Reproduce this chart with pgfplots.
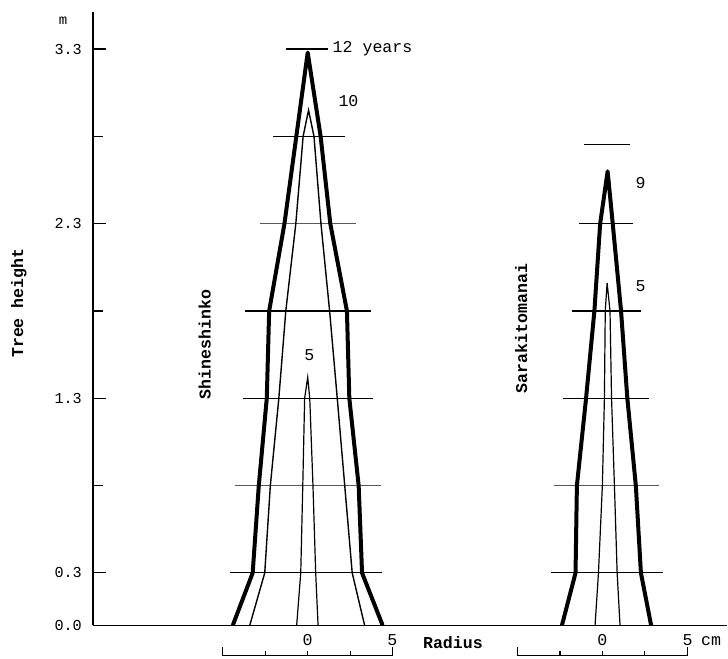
\documentclass[border=0pt]{standalone}
\usepackage{fontspec}
\setmainfont{Liberation Mono}
\usepackage{pgfplots}
\pgfplotsset{compat=1.18}
\newcommand{\lab}{\fontsize{8.3}{9}\selectfont\bfseries}
\newcommand{\txt}{\fontsize{8.3}{9}\selectfont}
\begin{document}
\begin{tikzpicture}
\begin{axis}[
 scale only axis, width=317.5pt, height=307pt,
 xmin=-12.647, xmax=24.706, ymin=0, ymax=3.513,
 axis x line=bottom, axis y line=left,
 axis line style={-, line width=0.7pt},
 xtick=\empty,
 ytick={0,0.3,1.3,2.3,3.3}, yticklabels={0.0,0.3,1.3,2.3,3.3},
 extra y ticks={0.8,1.8,2.8}, extra y tick labels={},
 extra y tick style={major tick length=5pt},
 major tick length=6.5pt, tick align=inside,
 tick style={line width=0.6pt, black},
 yticklabel style={font=\fontsize{7.6}{8}\selectfont, xshift=-2pt},
 clip=false,
]
% bounding area
\path (axis cs:-18.118,-0.189) rectangle (axis cs:24.706,3.581);

% ---- Shineshinko: horizontal section lines
\addplot[black, line width=0.6pt] coordinates {(-1.25,3.3) (1.18,3.3)};
\addplot[black, line width=0.6pt] coordinates {(-2.04,2.8) (2.18,2.8)};
\addplot[black!65, line width=0.6pt] coordinates {(-2.82,2.3) (2.82,2.3)};
\addplot[black, line width=0.55pt] coordinates {(-3.71,1.8) (3.75,1.8)};
\addplot[black, line width=0.6pt] coordinates {(-3.80,1.3) (3.84,1.3)};
\addplot[black!65, line width=0.6pt] coordinates {(-4.29,0.8) (4.33,0.8)};
\addplot[black, line width=0.6pt] coordinates {(-4.59,0.3) (4.39,0.3)};

% 12 years
\addplot[black, line width=2pt, line join=round] coordinates {
(-4.41,0) (-3.24,0.3) (-2.88,0.8) (-2.41,1.3) (-2.27,1.8) (-1.37,2.3) (-0.67,2.8) (0.0,3.28)
(0.76,2.8) (1.33,2.3) (2.31,1.8) (2.45,1.3) (3.0,0.8) (3.2,0.3) (4.41,0)};
% 10 years
\addplot[black, line width=0.7pt] coordinates {
(-3.41,0) (-2.53,0.3) (-2.2,0.8) (-1.7,1.3) (-1.29,1.8) (-0.7,2.3) (-0.27,2.8) (0.05,2.95)
(0.37,2.8) (0.78,2.3) (1.29,1.8) (1.74,1.3) (2.18,0.8) (2.62,0.3) (3.35,0)};
% 5 years
\addplot[black, line width=0.6pt] coordinates {
(-0.65,0) (-0.41,0.3) (-0.29,0.8) (-0.18,1.3) (0.0,1.42) (0.12,1.3) (0.31,0.8) (0.47,0.3) (0.61,0)};

% ---- Sarakitomanai (centre at 17.47 cm)
\addplot[black, line width=0.6pt] table[x expr=\thisrow{r}+17.47, y=h] {
r h
-1.18 2.753
1.51 2.753
};
\addplot[black, line width=0.6pt] table[x expr=\thisrow{r}+17.47, y=h] {
r h
-1.47 2.3
1.71 2.3
};
\addplot[black, line width=0.55pt] table[x expr=\thisrow{r}+17.47, y=h] {
r h
-1.90 1.8
2.16 1.8
};
\addplot[black, line width=0.6pt] table[x expr=\thisrow{r}+17.47, y=h] {
r h
-2.45 1.3
2.65 1.3
};
\addplot[black!65, line width=0.6pt] table[x expr=\thisrow{r}+17.47, y=h] {
r h
-2.94 0.8
3.19 0.8
};
\addplot[black, line width=0.6pt] table[x expr=\thisrow{r}+17.47, y=h] {
r h
-3.14 0.3
3.43 0.3
};
% 9 years
\addplot[black, line width=2pt, line join=round] table[x expr=\thisrow{r}+17.47, y=h] {
r h
-2.5 0
-1.7 0.3
-1.62 0.8
-1.08 1.3
-0.59 1.8
-0.25 2.3
0.19 2.6
0.49 2.3
0.98 1.8
1.35 1.3
1.85 0.8
2.15 0.3
2.75 0
};
% 5 years
\addplot[black, line width=0.6pt] table[x expr=\thisrow{r}+17.47, y=h] {
r h
-0.55 0
-0.35 0.3
-0.12 0.8
0.0 1.3
0.05 1.8
0.16 1.96
0.33 1.8
0.42 1.3
0.59 0.8
0.75 0.3
0.92 0
};

% ---- radius scale bars
\addplot[black, line width=0.6pt] coordinates {(-5,-0.126) (-5,-0.172) (5,-0.172) (5,-0.126)};
\addplot[black, line width=0.6pt] coordinates {(-2.5,-0.172) (-2.5,-0.149)};
\addplot[black, line width=0.6pt] coordinates {(0,-0.172) (0,-0.149)};
\addplot[black, line width=0.6pt] coordinates {(2.5,-0.172) (2.5,-0.149)};
\addplot[black, line width=0.6pt] coordinates {(12.35,-0.126) (12.35,-0.172) (22.35,-0.172) (22.35,-0.126)};
\addplot[black, line width=0.6pt] coordinates {(14.85,-0.172) (14.85,-0.149)};
\addplot[black, line width=0.6pt] coordinates {(17.35,-0.172) (17.35,-0.149)};
\addplot[black, line width=0.6pt] coordinates {(19.85,-0.172) (19.85,-0.149)};

% ---- texts
\node[anchor=west, inner sep=0pt] at (axis cs:1.45,3.30) {\txt 12 years};
\node[inner sep=0pt] at (axis cs:2.4,3.0) {\txt 10};
\node[inner sep=0pt] at (axis cs:0.1,1.55) {\txt 5};
\node[inner sep=0pt] at (axis cs:19.6,2.53) {\txt 9};
\node[inner sep=0pt] at (axis cs:19.6,1.94) {\txt 5};
\node[rotate=90, inner sep=0pt] at (axis cs:-6.06,1.608) {\lab Shineshinko};
\node[rotate=90, inner sep=0pt] at (axis cs:12.57,1.70) {\lab Sarakitomanai};
\node[rotate=90, inner sep=0pt] at (axis cs:-17.0,1.845) {\lab Tree height};
\node[inner sep=0pt] at (axis cs:-14.4,3.46) {\fontsize{7}{8}\selectfont m};
\node[inner sep=0pt] at (axis cs:8.55,-0.097) {\lab Radius};
\node[inner sep=0pt] at (axis cs:0,-0.086) {\txt 0};
\node[inner sep=0pt] at (axis cs:4.98,-0.086) {\txt 5};
\node[inner sep=0pt] at (axis cs:17.35,-0.086) {\txt 0};
\node[inner sep=0pt] at (axis cs:22.37,-0.086) {\txt 5};
\node[inner sep=0pt] at (axis cs:23.75,-0.090) {\txt cm};
\end{axis}
\end{tikzpicture}
\end{document}
